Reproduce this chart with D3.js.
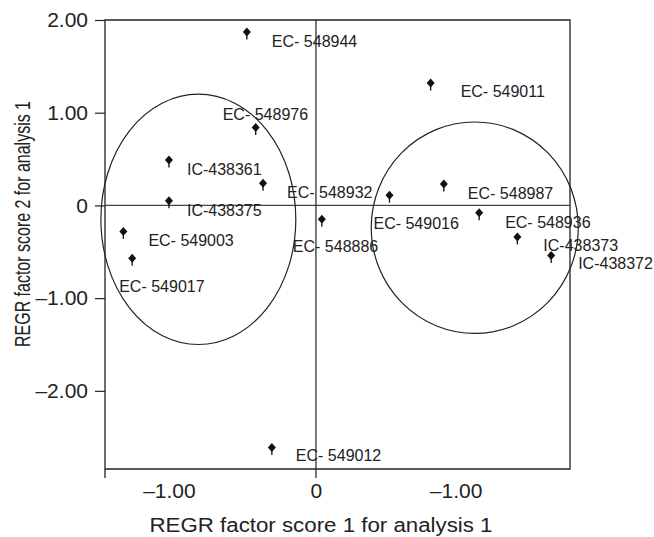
<!DOCTYPE html>
<html>
<head>
<meta charset="utf-8">
<script src="https://cdn.jsdelivr.net/npm/d3@7"></script>
<style>
  html, body { margin: 0; padding: 0; background: #fff; }
  svg text { font-family: "Liberation Sans", Arial, sans-serif; fill: #222; }
</style>
</head>
<body>
<svg id="chart" width="654" height="537"></svg>
<script>
// scatter of factor scores with two cluster ellipses
const genotypes = [
  'EC- 548944', 'EC- 549011', 'EC- 548976', 'IC-438361', 'EC- 548932',
  'IC-438375', 'EC- 548987', 'EC- 549016', 'EC- 548886', 'EC- 548936',
  'IC-438373', 'IC-438372', 'EC- 549003', 'EC- 549017', 'EC- 549012'
];
const score1 = [-0.47, 0.78, -0.41, -1.0, -0.36, -1.0, 0.87, 0.5, 0.04, 1.11, 1.37, 1.6, -1.31, -1.25, -0.3];
const score2 = [1.87, 1.32, 0.84, 0.49, 0.24, 0.05, 0.23, 0.11, -0.15, -0.08, -0.34, -0.54, -0.28, -0.57, -2.61];

// label offsets in px from each point (start x, baseline y)
const labelDx = [25, 30, -33, 18, 24, 18, 24, -16, -29, 26, 26, 27, 25, -13, 24];
const labelDy = [15, 14, -8, 15, 15, 15, 15, 34, 33, 15, 14, 14, 15, 34, 14];

// cluster ellipses: centre and radii in score units
const clusterCx = [-0.8, 1.08];
const clusterCy = [-0.15, -0.24];
const clusterRx = [0.663, 0.704];
const clusterRy = [1.35, 1.14];

const yTickValues = [2, 1, 0, -1, -2];
const yTickLabels = ['2.00', '1.00', '0', '\u20131.00', '\u20132.00'];
const xTickValues = [-1, 0, 0.95];
const xTickLabels = ['\u20131.00', '0', '\u20131.00'];

(function () {
  const svg = d3.select('#chart');
  const left = 105, right = 570, plotTop = 20, bottom = 469;

  const x = d3.scaleLinear().domain([-1.435, 1.728]).range([left, right]);
  const y = d3.scaleLinear().domain([-2.843, 2.0]).range([bottom, plotTop]);

  const ink = '#222';
  const font = '"Liberation Sans", Arial, sans-serif';

  // frame
  svg.append('path')
    .attr('d', `M${left},${bottom + 9}V${plotTop}H${right}V${bottom}H${left}`)
    .attr('fill', 'none').attr('stroke', ink).attr('stroke-width', 1.3);

  // zero lines
  svg.append('line')
    .attr('x1', left).attr('x2', right).attr('y1', y(0)).attr('y2', y(0))
    .attr('stroke', '#444').attr('stroke-width', 1.1);
  svg.append('line')
    .attr('x1', x(0)).attr('x2', x(0)).attr('y1', plotTop).attr('y2', bottom + 9)
    .attr('stroke', ink).attr('stroke-width', 1.2);

  // y axis ticks
  const yAxis = d3.axisLeft(y)
    .tickValues(yTickValues)
    .tickFormat((d, i) => yTickLabels[i])
    .tickSize(10)
    .tickPadding(7);
  const yg = svg.append('g').attr('transform', `translate(${left},0)`).call(yAxis);
  yg.select('.domain').remove();
  yg.selectAll('line').attr('stroke', ink).attr('stroke-width', 1.2);
  yg.selectAll('text').attr('font-size', 21).attr('fill', ink).attr('font-family', font);

  // x axis labels
  const xAxis = d3.axisBottom(x)
    .tickValues(xTickValues)
    .tickFormat((d, i) => xTickLabels[i])
    .tickSize(0)
    .tickPadding(14);
  const xg = svg.append('g').attr('transform', `translate(0,${bottom})`).call(xAxis);
  xg.select('.domain').remove();
  xg.selectAll('text').attr('font-size', 21).attr('fill', ink).attr('font-family', font);

  // axis titles
  svg.append('text')
    .attr('x', 321).attr('y', 532)
    .attr('text-anchor', 'middle')
    .attr('font-size', 19.5)
    .attr('textLength', 343).attr('lengthAdjust', 'spacingAndGlyphs')
    .text('REGR factor score 1 for analysis 1');
  svg.append('text')
    .attr('transform', 'translate(30,224) rotate(-90)')
    .attr('text-anchor', 'middle')
    .attr('font-size', 22)
    .attr('textLength', 246).attr('lengthAdjust', 'spacingAndGlyphs')
    .text('REGR factor score 2 for analysis 1');

  // ellipses
  svg.selectAll('.cluster')
    .data(clusterCx)
    .join('ellipse')
    .attr('class', 'cluster')
    .attr('cx', (d, i) => x(clusterCx[i]))
    .attr('cy', (d, i) => y(clusterCy[i]))
    .attr('rx', (d, i) => x(clusterRx[i]) - x(0))
    .attr('ry', (d, i) => y(0) - y(clusterRy[i]))
    .attr('fill', 'none').attr('stroke', ink).attr('stroke-width', 1.2);

  // points
  const pts = svg.selectAll('.pt')
    .data(genotypes)
    .join('g')
    .attr('class', 'pt')
    .attr('transform', (d, i) => `translate(${x(score1[i])},${y(score2[i])})`);
  pts.append('path')
    .attr('d', 'M0,-4.5L4,0L0,4.5L-4,0Z')
    .attr('fill', '#111');
  pts.append('line')
    .attr('x1', 0).attr('x2', 0).attr('y1', 3).attr('y2', 7.5)
    .attr('stroke', '#111').attr('stroke-width', 1.3);

  svg.selectAll('.lbl')
    .data(genotypes)
    .join('text')
    .attr('class', 'lbl')
    .attr('x', (d, i) => x(score1[i]) + labelDx[i])
    .attr('y', (d, i) => y(score2[i]) + labelDy[i])
    .attr('font-size', 16)
    .text(d => d);
})();
</script>
</body>
</html>
